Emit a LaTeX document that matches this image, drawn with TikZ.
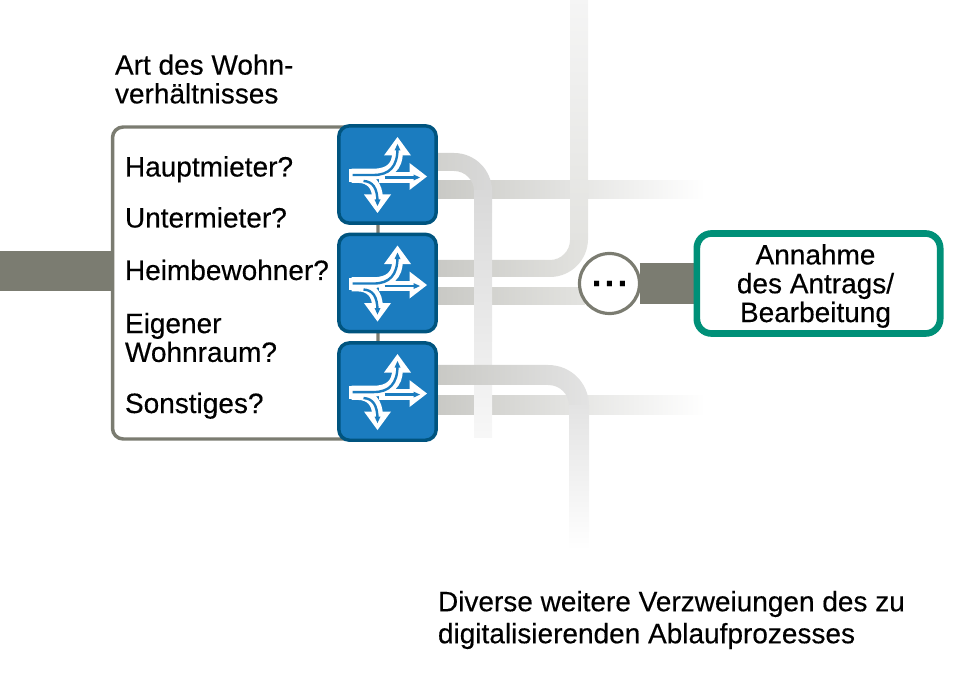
\documentclass[tikz,border=0pt]{standalone}
\usepackage{fontspec}
\setmainfont{Liberation Sans}[RawFeature={embolden=0.35}]
\usetikzlibrary{positioning, backgrounds}
\definecolor{trunkgrey}{HTML}{7B7C71}
\definecolor{bandgrey}{HTML}{C9C9C5}
\definecolor{bandmid}{HTML}{E3E3E0}
\definecolor{switchblue}{HTML}{1B7CBF}
\definecolor{switchedge}{HTML}{00547F}
\definecolor{targetgreen}{HTML}{009078}
\tikzset{
  fork/.pic={
    % white body of the three arrows
    \draw[white, line width=9.5pt] (-38.5,1) -- (-24,1);
    \draw[white, line width=8pt] (-36,-0.5) -- (-14,-0.5) .. controls (2,-0.5) and (10,-8) .. (10,-22);
    \draw[white, line width=8pt] (-36,3) -- (-30,3) .. controls (-17,3) and (-10,11) .. (-10,24);
    \draw[white, line width=8pt] (-9,3) -- (24,3);
    \fill[white] (10,-37.5) -- (23.5,-19) -- (-3.5,-19) -- cycle;
    \fill[white] (39.5,2) -- (22,15.5) -- (22,-11.5) -- cycle;
    \fill[white] (-10,38.5) -- (3.5,20) -- (-23.5,20) -- cycle;
    % blue inner lines
    \draw[switchblue, line width=1.8pt] (-35,0.5) -- (-14,0.5) .. controls (2,0.5) and (10,-8) .. (10,-26);
    \draw[switchblue, line width=1.8pt] (-24,6.5) .. controls (-15,7) and (-10,13) .. (-10,28);
    \draw[switchblue, line width=1.8pt] (-3,3) -- (28,3);
    \fill[switchblue] (10,-30.5) -- (13,-24) -- (7,-24) -- cycle;
    \fill[switchblue] (32.5,3) -- (26,0) -- (26,6) -- cycle;
    \fill[switchblue] (-10,31.5) -- (-7,25) -- (-13,25) -- cycle;
  }
}
\begin{document}
\begin{tikzpicture}[x=0.75pt, y=-0.75pt, node distance=8.4pt,
  txt/.style={inner sep=0pt, outer sep=0pt, text=black, font=\fontsize{21}{21.6}\selectfont},
  listbox/.style={draw=trunkgrey, line width=2.6pt, fill=white, rounded corners=8pt,
                  minimum width=199.1pt, minimum height=234pt, inner sep=0pt, outer sep=0pt},
  switchbox/.style={draw=switchedge, line width=2.6pt, fill=switchblue, rounded corners=8pt,
                    minimum size=73pt, inner sep=0pt, outer sep=0pt},
  targetbox/.style={draw=targetgreen, line width=5pt, fill=white, rounded corners=11pt,
                    minimum width=182.5pt, minimum height=75pt, inner sep=0pt, outer sep=0pt},
  dotsnode/.style={circle, draw=trunkgrey, line width=2.4pt, fill=white, minimum size=45pt,
                   inner sep=0pt, outer sep=0pt, font=\fontsize{26}{26}\selectfont\bfseries},
  trunk/.style={draw=trunkgrey, line width=30.5pt}]

  \useasboundingbox (0,0) rectangle (960,673);

  \node[listbox]   (liste)  at (245.25,283) {};
  \node[switchbox] (sw1)    at (387.5,174.5) {};
  \node[switchbox, below=of sw1] (sw2) {};
  \node[switchbox, below=of sw2] (sw3) {};
  \node[dotsnode]  (punkte) at (609.5,283.5) {.\kern2.5pt.\kern2.5pt.};
  \node[targetbox] (ziel)   at (818.5,283.5) {};
  \coordinate (eingang) at (0,271);

  \pic at (sw1) {fork};
  \pic at (sw2) {fork};
  \pic at (sw3) {fork};

  \node[txt, anchor=west, align=left] (titel) at (115,79) {Art des Wohn-\\verhältnisses};
  \node[txt, anchor=base west] (haupt)  at (125,176.5) {Hauptmieter?};
  \node[txt, anchor=base west] (unter)  at (125,227.5) {Untermieter?};
  \node[txt, anchor=base west] (heim)   at (125,280) {Heimbewohner?};
  \node[txt, anchor=west, align=left] (eigen) at (125,337.5) {Eigener\\Wohnraum?};
  \node[txt, anchor=base west] (sonst)  at (125,413) {Sonstiges?};
  \node[txt, align=center] (zieltext) at (815.5,286) {Annahme\\des Antrags/\\Bearbeitung};
  \node[txt, anchor=west, align=left, font=\fontsize{21}{24}\selectfont] (weitere) at (438,620) {Diverse weitere Verzweiungen des zu\\digitalisierenden Ablaufprozesses};

  \begin{scope}[on background layer]
    \draw[trunk] (eingang) -- (eingang -| liste.west);
    \draw[trunk] (punkte) -- (ziel);
    % straight branches
    \shade[left color=bandgrey, right color=white] (438,181) rectangle (705,199);
    \shade[left color=bandgrey, right color=white] (438,396) rectangle (705,414);
    \shade[left color=bandgrey, right color=bandmid] (438,288) rectangle (585,305);
    % branch to the top
    \shade[left color=bandgrey, right color=bandmid] (438,260) -- (550,260)
      .. controls (561,260) and (570,251) .. (570,240) -- (570,239) -- (588,239)
      .. controls (588,260) and (571,277) .. (550,277) -- (438,277) -- cycle;
    \shade[bottom color=bandmid, top color=black!4] (570,239.5) rectangle (588,0);
    % arch over the first switch
    \shade[left color=bandgrey!85!white, right color=black!15] (438,153) -- (454,153)
      .. controls (475,153) and (492,170) .. (492,191) -- (474,191)
      .. controls (474,180) and (465,171) .. (454,171) -- (438,171) -- cycle;
    \shade[top color=black!15, bottom color=black!3] (474,190.5) rectangle (492,437);
    % branch to the bottom
    \shade[left color=bandgrey, right color=black!11] (438,365) -- (548,365)
      .. controls (571,365) and (589,383) .. (589,406) -- (569,406)
      .. controls (569,394) and (560,385) .. (548,385) -- (438,385) -- cycle;
    \shade[top color=black!11, bottom color=white] (569,405.5) rectangle (589,550);
  \end{scope}
\end{tikzpicture}
\end{document}
